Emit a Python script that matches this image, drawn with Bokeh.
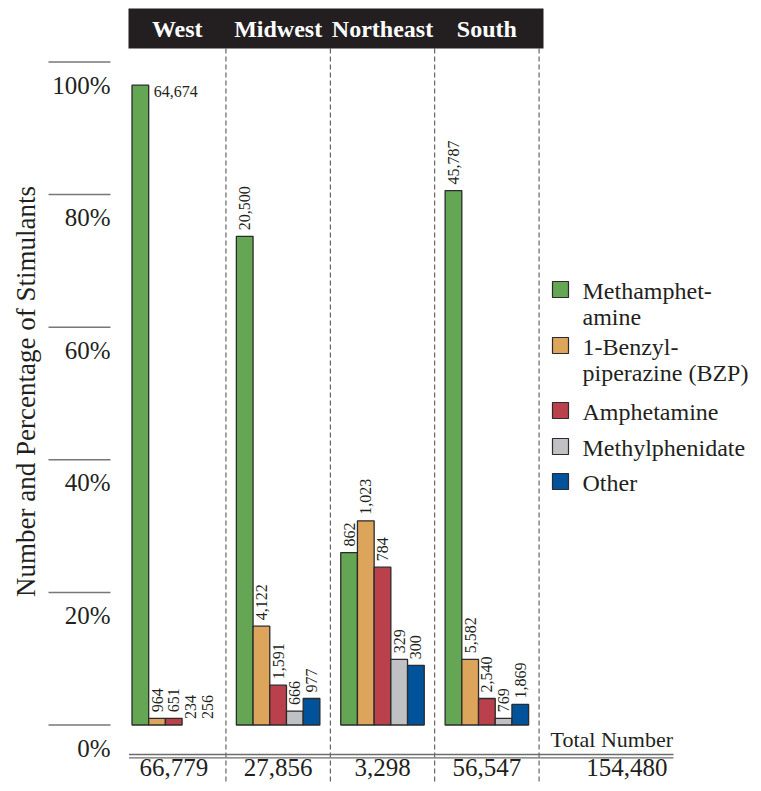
import math
from bokeh.plotting import figure
from bokeh.models import Range1d, ColumnDataSource
from bokeh.core.properties import value
from bokeh.embed import file_html
from bokeh.resources import INLINE

# ---------------- data ----------------
regions = ["West", "Midwest", "Northeast", "South"]
series = ["Methamphetamine", "1-Benzylpiperazine (BZP)", "Amphetamine", "Methylphenidate", "Other"]
legend_lines = [["Methamphet-", "amine"], ["1-Benzyl-", "piperazine (BZP)"], ["Amphetamine"],
                ["Methylphenidate"], ["Other"]]
# percentage of stimulants (bar heights)
pct_meth = [96.5, 73.7, 26.0, 80.6]
pct_bzp = [1.0, 14.9, 30.8, 9.9]
pct_amph = [1.0, 6.0, 23.8, 4.0]
pct_mph = [0.0, 2.1, 9.9, 1.0]
pct_other = [0.0, 4.0, 9.0, 3.1]
# number of stimulants (bar labels)
n_meth = [64674, 20500, 862, 45787]
n_bzp = [964, 4122, 1023, 5582]
n_amph = [651, 1591, 784, 2540]
n_mph = [234, 666, 329, 769]
n_other = [256, 977, 300, 1869]
region_totals = [66779, 27856, 3298, 56547]
grand_total = 154480
y_ticks = [0, 20, 40, 60, 80, 100]

pcts = [pct_meth, pct_bzp, pct_amph, pct_mph, pct_other]
counts = [n_meth, n_bzp, n_amph, n_mph, n_other]
colors = ["#64a654", "#dda45b", "#ba414b", "#bfc1c5", "#00529b"]

# ---------------- layout ----------------
W, H = 753, 783
PX = 16.7          # pixels per bar width
YS = 6.63          # pixels per percent
X0 = 131.5         # canvas x of first bar's left edge
Y0 = 724.5         # canvas y of 0%
STRIDE = 6.25      # group stride in bar units
FONT = value("Liberation Serif")
TXT = "#231f20"

def xd(px):
    return (px - X0) / PX

def yd(py):
    return (Y0 - py) / YS

p = figure(width=W, height=H, output_backend="svg", toolbar_location=None,
           x_range=Range1d(xd(0), xd(W)), y_range=Range1d(yd(H), yd(0)),
           x_axis_location=None, y_axis_location=None, min_border=0)
p.xgrid.visible = False
p.ygrid.visible = False
p.outline_line_color = None
p.background_fill_color = "white"
p.border_fill_color = "white"

# header band
p.quad(left=xd(128), right=xd(543), top=yd(8), bottom=yd(48), fill_color="#231f20", line_color=None)

# separators between regions
dash_x = [i * STRIDE - (STRIDE - 5) / 2 for i in range(1, len(regions) + 1)]
p.segment(x0=dash_x, x1=dash_x, y0=[yd(48)] * len(dash_x), y1=[yd(800)] * len(dash_x),
          line_color="#444444", line_width=1, line_dash="5 3")

left_bounds = [xd(128)] + dash_x[:-1]
head_x = [(a + b) / 2 for a, b in zip(left_bounds, dash_x)]
p.text(x=head_x, y=[yd(28)] * len(regions), text=regions, text_color="white",
       text_font=FONT, text_font_size=value("24px"), text_font_style="bold",
       text_align="center", text_baseline="middle")

# y ticks (short rules) and labels
p.segment(x0=[xd(48)] * len(y_ticks), x1=[xd(110)] * len(y_ticks), y0=y_ticks, y1=y_ticks,
          line_color="#777777", line_width=1.5)
p.text(x=[xd(110)] * len(y_ticks), y=[t - 23 / YS for t in y_ticks], text=[f"{t}%" for t in y_ticks],
       text_color=TXT, text_font=FONT, text_font_size=value("25px"),
       text_align="right", text_baseline="middle")

p.text(x=[xd(25)], y=[yd(391)], text=["Number and Percentage of Stimulants"], angle=math.pi / 2,
       text_color=TXT, text_font=FONT, text_font_size=value("27px"),
       text_align="center", text_baseline="middle")

# bars
bx, btop, bcol, blc = [], [], [], []
rot = dict(x=[], y=[], t=[])
hor = dict(x=[], y=[], t=[])
for i in range(len(regions)):
    for j in range(len(series)):
        xc = i * STRIDE + j + 0.5
        v = pcts[j][i]
        bx.append(xc)
        btop.append(v)
        bcol.append(colors[j])
        blc.append("#2b2b2b" if v > 0 else None)
        lab = f"{counts[j][i]:,}"
        if v > 90:
            hor["x"].append(xc + 0.5 + 5 / PX)
            hor["y"].append(v - 6 / YS)
            hor["t"].append(lab)
        else:
            rot["x"].append(xc)
            rot["y"].append(v + 6 / YS)
            rot["t"].append(lab)

p.vbar(x=bx, top=btop, bottom=0, width=1.0, fill_color=bcol, line_color=blc, line_width=1.3)

p.text(x="x", y="y", text="t", source=ColumnDataSource(rot), angle=math.pi / 2,
       text_color=TXT, text_font=FONT, text_font_size=value("16px"),
       text_align="left", text_baseline="middle")
p.text(x="x", y="y", text="t", source=ColumnDataSource(hor),
       text_color=TXT, text_font=FONT, text_font_size=value("16px"),
       text_align="left", text_baseline="middle")

# bottom double rule and totals
for yy in (754, 757.3):
    p.segment(x0=[xd(128.5)], x1=[xd(673)], y0=[yd(yy)], y1=[yd(yy)], line_color="#6d6d6d", line_width=1.3)

p.text(x=[xd(550)], y=[yd(738.5)], text=["Total Number"], text_color=TXT, text_font=FONT,
       text_font_size=value("22px"), text_align="left", text_baseline="middle")

tot_x = [i * STRIDE + 2.5 for i in range(len(regions))]
p.text(x=tot_x, y=[yd(767)] * len(regions), text=[f"{t:,}" for t in region_totals],
       text_color=TXT, text_font=FONT, text_font_size=value("25px"),
       text_align="center", text_baseline="middle")
p.text(x=[xd(667)], y=[yd(767)], text=[f"{grand_total:,}"],
       text_color=TXT, text_font=FONT, text_font_size=value("25px"),
       text_align="right", text_baseline="middle")

# legend
sq_y = [289, 345, 410, 446, 481]
p.rect(x=[xd(560)] * len(series), y=[yd(v) for v in sq_y], width=16, height=16,
       width_units="screen", height_units="screen", fill_color=colors, line_color="#2b2b2b", line_width=1.2)
lx, ly, lt = [], [], []
for k, lines in enumerate(legend_lines):
    for m, line in enumerate(lines):
        lx.append(xd(582))
        ly.append(yd(sq_y[k] + 1 + 26.5 * m))
        lt.append(line)
p.text(x=lx, y=ly, text=lt, text_color=TXT, text_font=FONT, text_font_size=value("24px"),
       text_align="left", text_baseline="middle")

open("out.html", "w").write(file_html(p, INLINE))
